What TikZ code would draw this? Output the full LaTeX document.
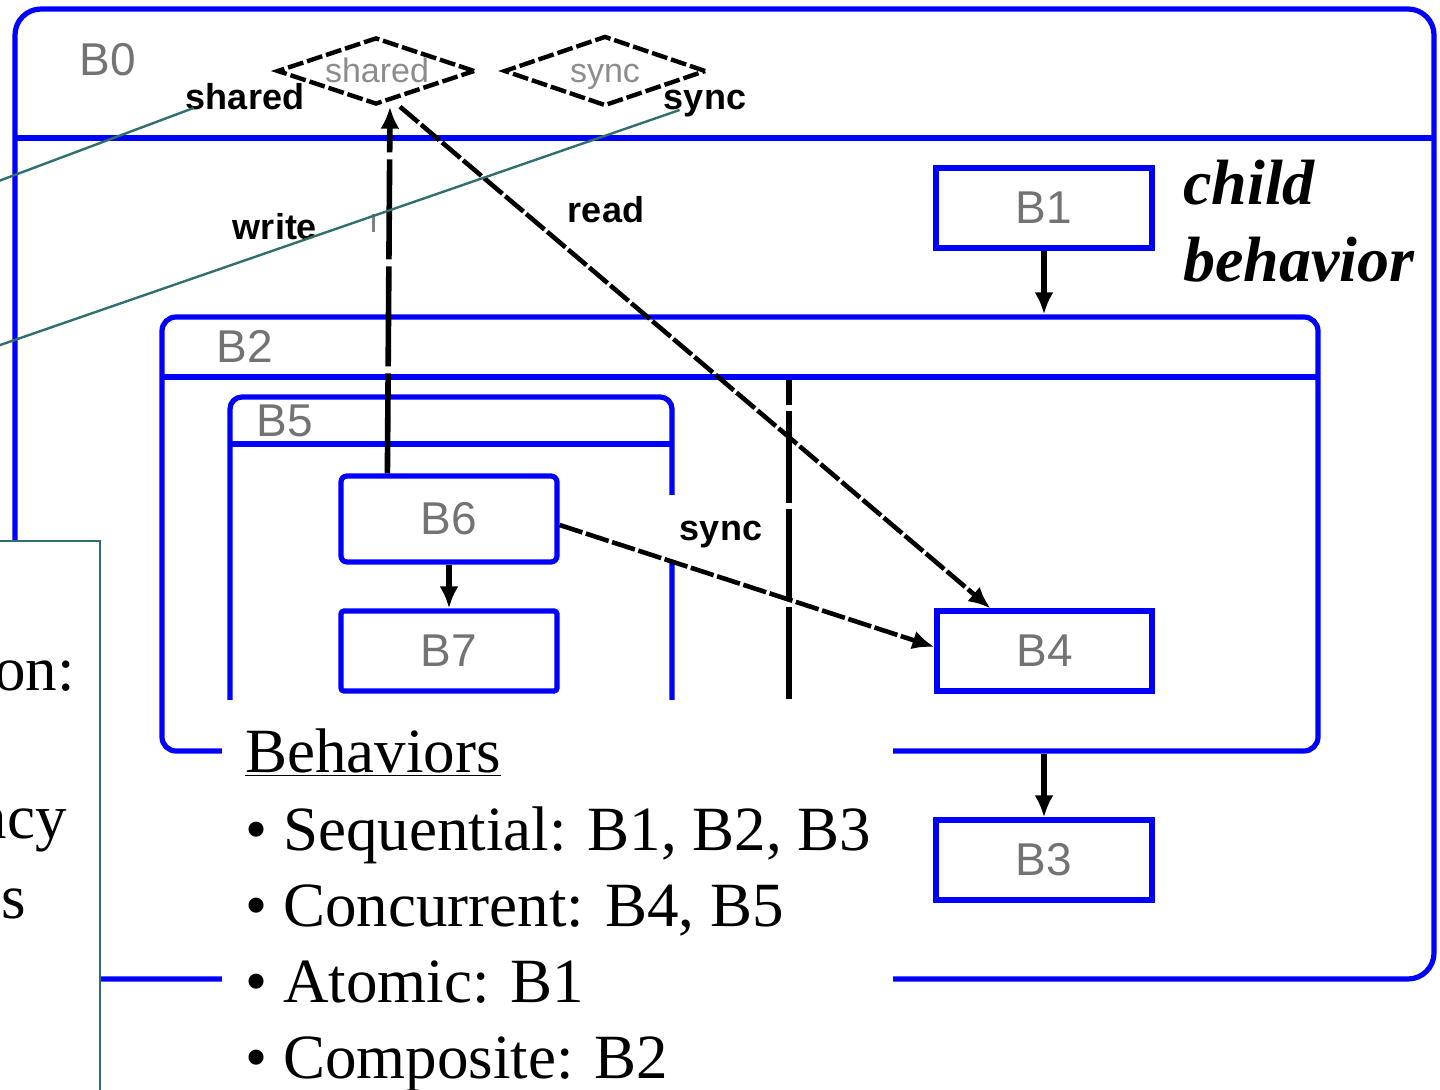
\documentclass[tikz,border=0pt]{standalone}
\usepackage{fontspec}
\setmainfont{Liberation Serif}
\setsansfont{Liberation Sans}
\usetikzlibrary{fit,shapes.geometric,arrows.meta,calc}
\definecolor{bblue}{RGB}{0,0,255}
\definecolor{tealline}{RGB}{50,110,110}
\begin{document}
\begin{tikzpicture}[x=0.5pt,y=-0.5pt,
  blk/.style={draw=bblue, line width=2.6pt, inner sep=0pt},
  bl/.style={draw=bblue, line width=2.6pt},
  lbl/.style={text=black!55, font=\sffamily\fontsize{23}{25}\selectfont, inner sep=0pt},
  dia/.style={diamond, draw=black, line width=2.2pt, dash pattern=on 8pt off 2pt, aspect=3, inner sep=0pt},
  dlbl/.style={text=black!45, font=\sffamily\fontsize{17}{19}\selectfont, inner sep=0pt, anchor=base},
  tag/.style={font=\sffamily\bfseries\fontsize{18}{20}\selectfont, inner sep=0pt, anchor=base},
  tip/.style={-{Latex[length=11pt,width=9.5pt]}},
  arr/.style={draw=black, line width=2.8pt, tip},
  darr/.style={draw=black, line width=2.3pt, dash pattern=on 12pt off 1.8pt, tip},
  warr/.style={draw=black, line width=2.8pt, dash pattern=on 50pt off 3.5pt, tip},
  sepline/.style={draw=black, line width=2.6pt, dash pattern=on 46pt off 3pt, dash phase=33.5pt},
  btext/.style={font=\fontsize{31.5}{38}\selectfont, inner sep=0pt, anchor=base west},
  child/.style={font=\bfseries\itshape\fontsize{32}{38}\selectfont, inner sep=0pt, anchor=base west},
  callout/.style={draw=tealline, line width=1.2pt}
]
\useasboundingbox (0,0) rectangle (1440,1090);
\clip (0,0) rectangle (1440,1090);
% outer behaviour B0
\node[blk, fit={(15,9)(1434,979)}, rounded corners=13pt] (B0) {};
\draw[bl] (15,138) -- (1434,138);
\node[lbl] (B0l) at (108,60) {B0};
% variables / channels
\node[dia, minimum width=99pt, minimum height=33.5pt] (shared) at (376,71) {};
\node[dlbl] (sharedl) at (377,83) {shared};
\node[dia, minimum width=101pt, minimum height=35pt] (syncd) at (605,71) {};
\node[dlbl] (syncdl) at (605,83) {sync};
% child behaviours
\node[blk, fit={(936,168)(1152,248)}] (B1) {};
\node[lbl] (B1l) at (B1.center) {B1};
\node[blk, fit={(162,317)(1318,751)}, rounded corners=7pt] (B2) {};
\draw[bl] (162,377) -- (1318,377);
\node[lbl] (B2l) at (245,346) {B2};
\node[blk, fit={(230,397)(672,790)}, rounded corners=6pt] (B5) {};
\draw[bl] (230,444) -- (672,444);
\node[lbl] (B5l) at (285,421) {B5};
\node[blk, fit={(341,476)(557,562)}, rounded corners=3pt] (B6) {};
\node[lbl] (B6l) at (B6.center) {B6};
\node[blk, fit={(341,611)(557,691)}, rounded corners=1.5pt] (B7) {};
\node[lbl] (B7l) at (B7.center) {B7};
\node[blk, fit={(937,611)(1152,691)}] (B4) {};
\node[lbl] (B4l) at (B4.center) {B4};
\node[blk, fit={(936,820)(1152,900)}] (B3) {};
\node[lbl] (B3l) at (B3.center) {B3};
% concurrency separator
\draw[sepline] (789,380) -- (789,720);
% sync label with white background
\node[fill=white, inner sep=0pt, minimum width=56pt, minimum height=33pt] (syncbg) at (721,528) {};
\node[tag] (synclbl) at (721,541) {sync};
% arrows
\draw[warr] ([xshift=24.5pt]B6.north west) -- ([xshift=7pt]shared.south);
\draw[darr] ([xshift=12pt]shared.south) -- ([xshift=-27pt]B4.north);
\draw[darr] ([yshift=-3pt]B6.east) -- ([yshift=2pt]B4.west);
\draw[arr] (B6.south) -- (B7.north);
\draw[arr] (B1.south) -- (B1.south |- B2.north);
\draw[arr] (B3.north |- B2.south) -- (B3.north);
% connector labels
\node[tag] (shtag) at (245,110) {shared};
\node[tag] (sytag) at (705,110) {sync};
\node[tag] (wrtag) at (275,240) {write};
\node[tag] (rdtag) at (606,223) {read};
\draw[black!50, line width=1.5pt] (373,214) -- (373,232);
% child behaviour caption
\node[child] (ch1) at (1183,205) {child};
\node[child] (ch2) at (1183,282) {behavior};
% behaviours text box
\node[fit={(222,700)(893,1100)}, fill=white, inner sep=0pt] (bbox) {};
\node[btext] (bh) at (245,772) {\underline{Behaviors}};
\node[btext] (bs) at (245,850) {\textbullet{} Sequential: B1, B2, B3};
\node[btext] (bc) at (245,926) {\textbullet{} Concurrent: B4, B5};
\node[btext] (ba) at (245,1002) {\textbullet{} Atomic: B1};
\node[btext] (bm) at (245,1078) {\textbullet{} Composite: B2};
% left text box
\node[fit={(-20,541)(100,1120)}, draw=tealline, line width=1.1pt, fill=white, inner sep=0pt] (lbox) {};
\node[btext, anchor=base east] (l1) at (75,690) {on:};
\node[btext, anchor=base east] (l2) at (67,838) {ncy};
\node[btext, anchor=base east] (l3) at (26,918) {ns};
% callout lines
\coordinate (e1) at (-20,188);
\coordinate (e2) at (-20,352);
\draw[callout] ([xshift=4pt,yshift=1pt]shtag.base west) -- (e1);
\draw[callout] ([xshift=8pt,yshift=0pt]sytag.base west) -- (e2);
\end{tikzpicture}
\end{document}
